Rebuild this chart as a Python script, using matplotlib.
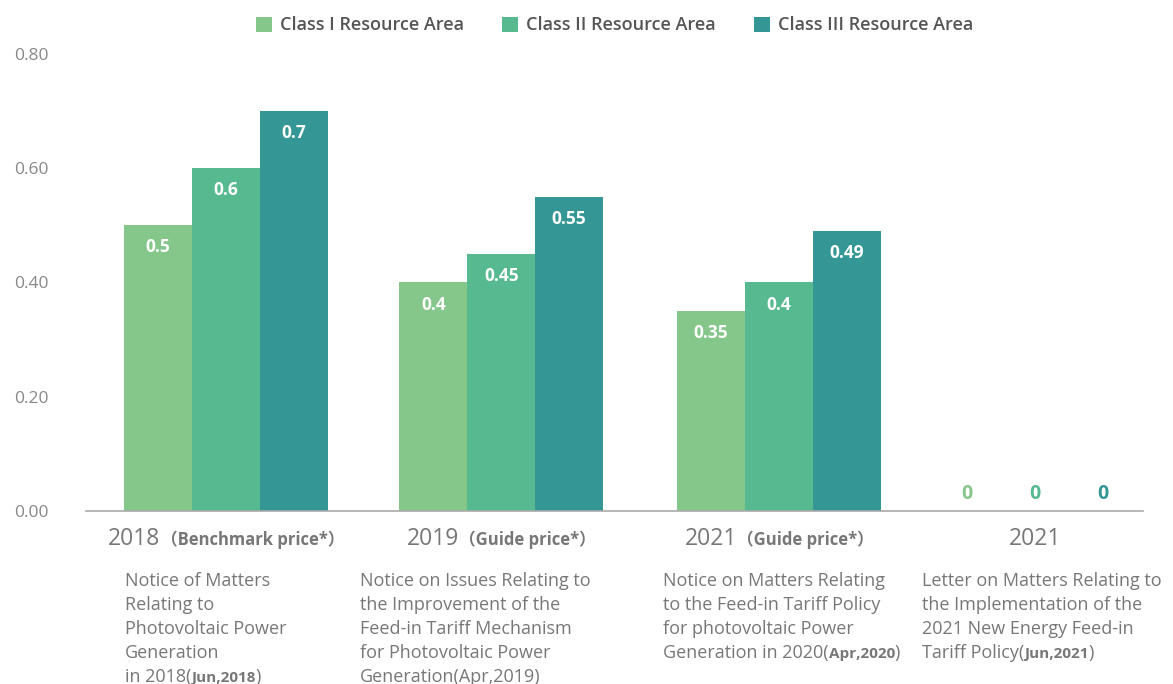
import matplotlib.pyplot as plt
from matplotlib.offsetbox import TextArea, HPacker, VPacker, AnnotationBbox
import numpy as np

plt.rcParams['font.family'] = ['Open Sans', 'Noto Sans CJK SC', 'DejaVu Sans']
fam = ['Open Sans', 'Noto Sans CJK SC', 'DejaVu Sans']

# Datos
series = ['Class I Resource Area', 'Class II Resource Area', 'Class III Resource Area']
class1 = [0.5, 0.4, 0.35, 0]
class2 = [0.6, 0.45, 0.4, 0]
class3 = [0.7, 0.55, 0.49, 0]
years = ['2018', '2019', '2021', '2021']
price_types = ['（Benchmark price*）', '（Guide price*）', '（Guide price*）', '']
notes = [
    ['Notice of Matters', 'Relating to', 'Photovoltaic Power', 'Generation', [('in 2018(', False), ('Jun,2018', True), (')', False)]],
    ['Notice on Issues Relating to', 'the Improvement of the', 'Feed-in Tariff Mechanism',
     'for Photovoltaic Power', [('Generation(Apr,2019)', False)]],
    ['Notice on Matters Relating', 'to the Feed-in Tariff Policy', 'for photovoltaic Power',
     [('Generation in 2020(', False), ('Apr,2020', True), (')', False)]],
    ['Letter on Matters Relating to', 'the Implementation of the', '2021 New Energy Feed-in',
     [('Tariff Policy(', False), ('Jun,2021', True), (')', False)]],
]

colors = ['#85c68a', '#56b98f', '#349795']
gray = '#777777'

fig = plt.figure(figsize=(11.73, 6.84), dpi=100)
ax = fig.add_axes([0.0733, 0.2529, 0.9011, 0.6769])

x = np.array([0, 1.02, 2.05, 3.0])
w = 0.252
all_vals = [class1, class2, class3]
for i, vals in enumerate(all_vals):
    xs = x + (i - 1) * w
    ax.bar(xs, vals, width=w, color=colors[i], label=series[i], zorder=2)
    for xi, v in zip(xs, vals):
        if v > 0:
            ax.annotate(f'{v:g}', (xi, v), xytext=(0, -16), textcoords='offset points',
                        ha='center', va='center', color='white', fontsize=12.5,
                        fontweight='bold')
        else:
            ax.annotate('0', (xi, 0), xytext=(0, 12), textcoords='offset points',
                        ha='center', va='center', color=colors[i], fontsize=14,
                        fontweight='bold')

ax.set_xlim(-0.52, 3.40)
ax.set_ylim(0, 0.81)
ax.set_yticks([0, 0.2, 0.4, 0.6, 0.8])
ax.set_yticklabels(['0.00', '0.20', '0.40', '0.60', '0.80'])
ax.tick_params(axis='y', length=0, pad=27, labelsize=12.5, labelcolor='#888888')
ax.set_xticks([])
for s in ['top', 'right', 'left']:
    ax.spines[s].set_visible(False)
ax.spines['bottom'].set_color('#aaaaaa')
ax.spines['bottom'].set_linewidth(1.2)

# Etiquetas de categoria
for xi, yr, pt in zip(x, years, price_types):
    parts = [TextArea(yr, textprops=dict(color=gray, fontsize=16.5, family=fam))]
    if pt:
        parts.append(TextArea(pt, textprops=dict(color=gray, fontsize=12, fontweight='bold',
                                                 family=fam)))
    box = HPacker(children=parts, align='baseline', pad=0, sep=0)
    ab = AnnotationBbox(box, (xi, -0.06), xycoords=('data', 'axes fraction'),
                        frameon=False, box_alignment=(0.5, 0.5), pad=0)
    ax.add_artist(ab)

# Notas descriptivas
note_offsets = [-0.375, -0.525, -0.43, -0.42]
for xi, off, lines in zip(x, note_offsets, notes):
    rows = []
    for ln in lines:
        if isinstance(ln, str):
            rows.append(TextArea(ln, textprops=dict(color=gray, fontsize=13)))
        else:
            segs = [TextArea(t, textprops=dict(color=gray, fontsize=11 if b else 13,
                                               fontweight='bold' if b else 'normal'))
                    for t, b in ln]
            rows.append(HPacker(children=segs, align='baseline', pad=0, sep=0))
    vbox = VPacker(children=rows, align='left', pad=0, sep=4.3)
    ab = AnnotationBbox(vbox, (xi + off, -0.132), xycoords=('data', 'axes fraction'),
                        frameon=False, box_alignment=(0, 1), pad=0, annotation_clip=False)
    ax.add_artist(ab)

leg = fig.legend(loc='center', bbox_to_anchor=(0.524, 0.963), ncol=3, frameon=False,
                 handlelength=0.9, handleheight=0.9, handletextpad=0.45, columnspacing=2.1,
                 fontsize=13)
for t in leg.get_texts():
    t.set_color('#555555')
    t.set_fontweight('semibold')

plt.savefig('out.png', dpi=100)
